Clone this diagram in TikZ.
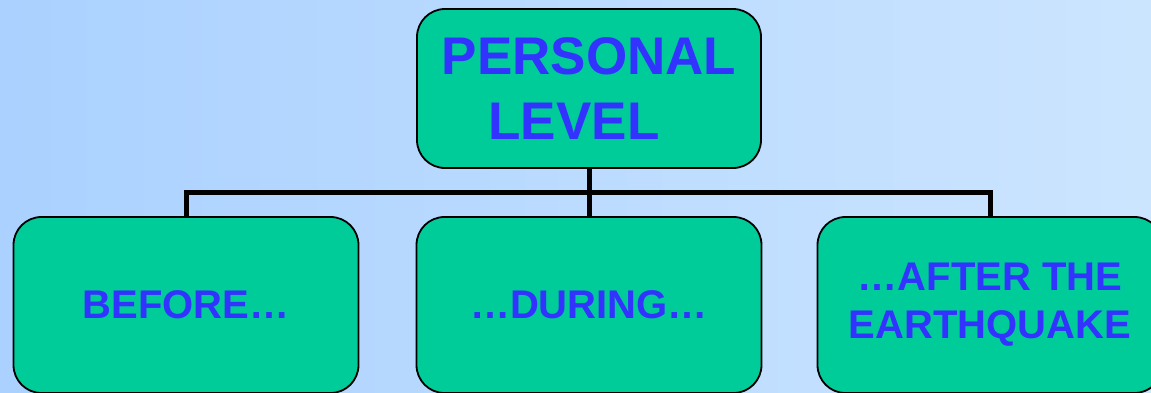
\documentclass[tikz,border=0pt]{standalone}
\usepackage{fontspec}
\setmainfont{Liberation Sans}
\definecolor{boxgreen}{HTML}{00CC99}
\definecolor{txtblue}{HTML}{3333FF}
\definecolor{bgleft}{HTML}{AAD1FF}
\definecolor{bgright}{HTML}{CCE5FF}
\begin{document}
\begin{tikzpicture}[x=1pt,y=-1pt,
  box/.style={draw=black, line width=1.8pt, fill=boxgreen, rounded corners=28pt,
    inner sep=0pt, align=center, text=txtblue, font=\bfseries\fontsize{40}{48}\selectfont},
  topbox/.style={box, minimum width=344pt, minimum height=159pt, font=\bfseries\fontsize{53}{65}\selectfont},
  lowbox/.style={box, minimum width=345pt, minimum height=176pt},
  conn/.style={draw=black, line width=5pt, line join=miter}]
\useasboundingbox (0,0) rectangle (1151,392);
\clip (0,0) rectangle (1151,392);
\shade[left color=bgleft, right color=bgright] (0,0) rectangle (1151,392);
\node[topbox] (top) at (589,88.5) {PERSONAL\\LEVEL\hspace*{30pt}};
\node[lowbox] (before) at (186,305) {BEFORE…};
\node[lowbox] (during) at (589,305) {…DURING…};
\node[lowbox] (after) at (990,305) {…AFTER THE\\EARTHQUAKE};
\draw[conn] (top.south) -- (during.north);
\draw[conn] (before.north) -- ([yshift=24pt]before.north) -| (after.north);
\end{tikzpicture}
\end{document}
